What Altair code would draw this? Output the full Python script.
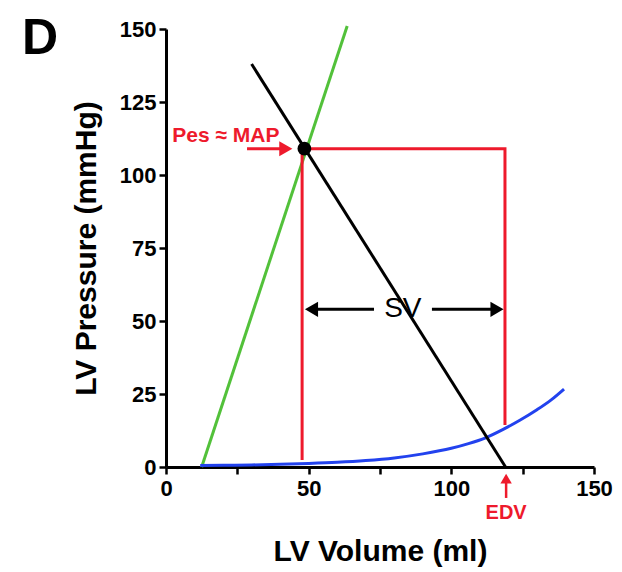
import altair as alt
import pandas as pd

# ---- data ----
espvr_x = [12.5, 63.5]          # green line (end-systolic P-V relation)
espvr_y = [0.0, 151.0]
ea_x = [30.0, 119.0]            # black line (arterial elastance)
ea_y = [138.0, 0.0]
edpvr_x = [12, 20, 30, 40, 50, 60, 70, 80, 90, 100, 106, 112, 118, 124, 130, 135, 139.5]
edpvr_y = [0.5, 0.6, 0.7, 0.9, 1.2, 1.6, 2.2, 3.1, 4.5, 6.4, 8.0, 10.0, 12.8, 16.0, 19.6, 23.0, 26.7]
loop_x = [47.7, 47.7, 118.8, 118.8]   # red P-V loop outline
loop_y = [2.4, 109.0, 109.0, 14.4]
pes_x = [48.5]
pes_y = [109.0]

x_ticks = [0, 12.5, 25, 37.5, 50, 62.5, 75, 87.5, 100, 112.5, 125, 137.5, 150]
y_ticks = [0, 12.5, 25, 37.5, 50, 62.5, 75, 87.5, 100, 112.5, 125, 137.5, 150]

# annotation anchors
pes_arrow_x = [28.4, 42.0]; pes_arrow_y = 109.0; pes_head_x = 42.0
pes_text_x = 21.0; pes_text_y = 111.3
sv_y = 54.0
sv_left = [51.0, 72.9]; sv_left_head = 51.0
sv_right = [93.2, 116.0]; sv_right_head = 116.0
sv_text_x = 83.0
edv_x = 119.2
edv_arrow_y = [-10.6, -4.0]; edv_head_y = -4.0
edv_text_y = -17.9

RED = "#ee1a2c"
GREEN = "#52c13a"
BLUE = "#2242ee"
FONT = "Liberation Sans"

xs = alt.Scale(domain=[0, 150], nice=False, zero=False)
ys = alt.Scale(domain=[0, 150], nice=False, zero=False)

xaxis = alt.Axis(values=x_ticks, format="d", title="LV Volume (ml)",
                 labelExpr="datum.value % 50 === 0 ? datum.label : ''",
                 tickSize={"condition": {"test": "datum.value % 25 === 0", "value": 7}, "value": 4},
                 labelPadding=4, labelFlush=False, labelOverlap=False,
                 titleX=214, titleY=84, titleBaseline="middle")
yaxis = alt.Axis(values=y_ticks, format="d", title="LV Pressure (mmHg)",
                 labelExpr="datum.value % 25 === 0 ? datum.label : ''",
                 tickSize={"condition": {"test": "datum.value % 25 === 0", "value": 7}, "value": 4},
                 labelPadding=3, labelFlush=False, labelOverlap=False,
                 titleX=-80, titleY=219, titleBaseline="middle", titleAngle=-90, titleAlign="center")

def line_df(xv, yv):
    return pd.DataFrame({"x": xv, "y": yv, "i": list(range(len(xv)))})

base_enc = dict(x=alt.X("x:Q", scale=xs, axis=xaxis), y=alt.Y("y:Q", scale=ys, axis=yaxis))

green = alt.Chart(line_df(espvr_x, espvr_y)).mark_line(color=GREEN, strokeWidth=3).encode(
    **base_enc, order="i:Q")
blue = alt.Chart(line_df(edpvr_x, edpvr_y)).mark_line(color=BLUE, strokeWidth=3, interpolate="monotone").encode(
    x="x:Q", y="y:Q", order="i:Q")
black = alt.Chart(line_df(ea_x, ea_y)).mark_line(color="black", strokeWidth=3).encode(
    x="x:Q", y="y:Q", order="i:Q")
loop = alt.Chart(line_df(loop_x, loop_y)).mark_line(color=RED, strokeWidth=3).encode(
    x="x:Q", y="y:Q", order="i:Q")
pt = alt.Chart(pd.DataFrame({"x": pes_x, "y": pes_y})).mark_point(
    filled=True, color="black", size=190, opacity=1).encode(x="x:Q", y="y:Q")

# Pes arrow
pes_rule = alt.Chart(pd.DataFrame({"x": [pes_arrow_x[0]], "x2": [pes_arrow_x[1]], "y": [pes_arrow_y]})).mark_rule(
    color=RED, strokeWidth=3).encode(x="x:Q", x2="x2:Q", y="y:Q")
pes_head = alt.Chart(pd.DataFrame({"x": [pes_head_x], "y": [pes_arrow_y]})).mark_point(
    shape="triangle-right", filled=True, color=RED, size=230, opacity=1).encode(x="x:Q", y="y:Q")
pes_text = alt.Chart(pd.DataFrame({"x": [pes_text_x], "y": [pes_text_y], "t": ["Pes ≈ MAP"]})).mark_text(
    font=FONT, fontWeight="bold", fontSize=21, color=RED, align="center", baseline="alphabetic").encode(
    x="x:Q", y="y:Q", text="t:N")

# SV arrows
sv_rules = alt.Chart(pd.DataFrame({"x": [sv_left[0], sv_right[0]], "x2": [sv_left[1], sv_right[1]],
                                   "y": [sv_y, sv_y]})).mark_rule(color="black", strokeWidth=3).encode(
    x="x:Q", x2="x2:Q", y="y:Q")
sv_lh = alt.Chart(pd.DataFrame({"x": [sv_left_head], "y": [sv_y]})).mark_point(
    shape="triangle-left", filled=True, color="black", size=230, opacity=1).encode(x="x:Q", y="y:Q")
sv_rh = alt.Chart(pd.DataFrame({"x": [sv_right_head], "y": [sv_y]})).mark_point(
    shape="triangle-right", filled=True, color="black", size=230, opacity=1).encode(x="x:Q", y="y:Q")
sv_text = alt.Chart(pd.DataFrame({"x": [sv_text_x], "y": [sv_y], "t": ["SV"]})).mark_text(
    font=FONT, fontSize=28, color="black", align="center", baseline="middle").encode(
    x="x:Q", y="y:Q", text="t:N")

# EDV arrow
edv_rule = alt.Chart(pd.DataFrame({"x": [edv_x], "y": [edv_arrow_y[0]], "y2": [edv_arrow_y[1]]})).mark_rule(
    color=RED, strokeWidth=2.5).encode(x="x:Q", y="y:Q", y2="y2:Q")
edv_head = alt.Chart(pd.DataFrame({"x": [edv_x], "y": [edv_head_y]})).mark_point(
    shape="triangle-up", filled=True, color=RED, size=130, opacity=1).encode(x="x:Q", y="y:Q")
edv_text = alt.Chart(pd.DataFrame({"x": [edv_x], "y": [edv_text_y], "t": ["EDV"]})).mark_text(
    font=FONT, fontWeight="bold", fontSize=20, color=RED, align="center", baseline="alphabetic").encode(
    x="x:Q", y="y:Q", text="t:N")

# panel letter
panel = alt.Chart(pd.DataFrame({"t": ["D"]})).mark_text(
    font=FONT, fontWeight="bold", fontSize=50, color="black", align="center", baseline="alphabetic").encode(
    x=alt.value(-126), y=alt.value(25), text="t:N")

chart = alt.layer(green, blue, black, loop, pt, pes_rule, pes_head, pes_text,
                  sv_rules, sv_lh, sv_rh, sv_text, edv_rule, edv_head, edv_text, panel).properties(
    width=428, height=438,
    autosize=alt.AutoSizeParams(type="none"),
    padding={"left": 158, "top": 21, "right": 20, "bottom": 105},
).configure_view(stroke=None).configure_axis(
    grid=False, domainColor="black", domainWidth=3, tickColor="black", tickWidth=2.5,
    labelFont=FONT, labelFontWeight="bold", labelFontSize=22, labelColor="black",
    titleFont=FONT, titleFontWeight="bold", titleFontSize=30, titleColor="black",
)

chart.save("out.html", embed_options={"renderer": "svg", "actions": False})
